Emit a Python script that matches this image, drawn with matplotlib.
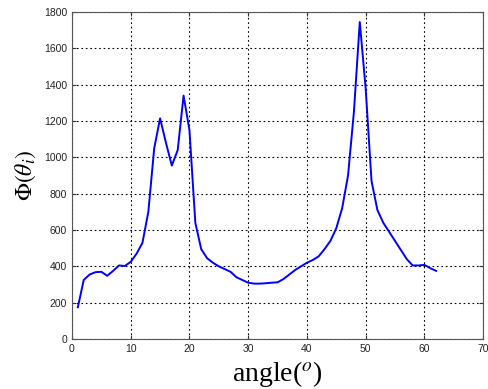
import matplotlib
matplotlib.use("Agg")
import matplotlib.pyplot as plt

angles = list(range(1, 63))
phi = [175, 325, 355, 368, 370, 348, 375, 405, 402, 425,
       470, 530, 700, 1050, 1215, 1080, 955, 1040, 1340, 1150,
       640, 495, 445, 420, 400, 385, 370, 340, 325, 310,
       305, 305, 307, 310, 312, 330, 355, 380, 400, 420,
       435, 455, 495, 540, 610, 720, 900, 1250, 1745, 1380,
       870, 710, 640, 590, 540, 490, 440, 405, 405, 408,
       390, 375]
xticks = [0, 10, 20, 30, 40, 50, 60, 70]
yticks = [0, 200, 400, 600, 800, 1000, 1200, 1400, 1600, 1800]

plt.rcParams['mathtext.fontset'] = 'stix'

fig = plt.figure(figsize=(4.88, 3.89), dpi=100)
ax = fig.add_axes([0.1475, 0.1285, 0.8425, 0.8405])
ax.plot(angles, phi, color=(0, 0, 1), linewidth=1.4)
ax.set_xlim(0, 70)
ax.set_ylim(0, 1800)
ax.set_xticks(xticks)
ax.set_yticks(yticks)
ax.tick_params(direction='in', top=True, right=True, labelsize=7.5, length=3, colors='#333333')
for lab in ax.get_xticklabels() + ax.get_yticklabels():
    lab.set_family('Liberation Sans')
    lab.set_color('#222222')
ax.grid(True, color='black', linestyle=(0, (1.5, 2.5)), linewidth=0.8)
for s in ax.spines.values():
    s.set_color('#555555')
    s.set_linewidth(0.8)
ax.set_xlabel(r'angle($^{\it{o}}$)', family='Liberation Serif', fontsize=20, labelpad=4)
ax.set_ylabel(r'$\Phi(\theta_{i})$', family='Liberation Serif', fontsize=17, labelpad=4)
fig.savefig('out.png', dpi=100)
